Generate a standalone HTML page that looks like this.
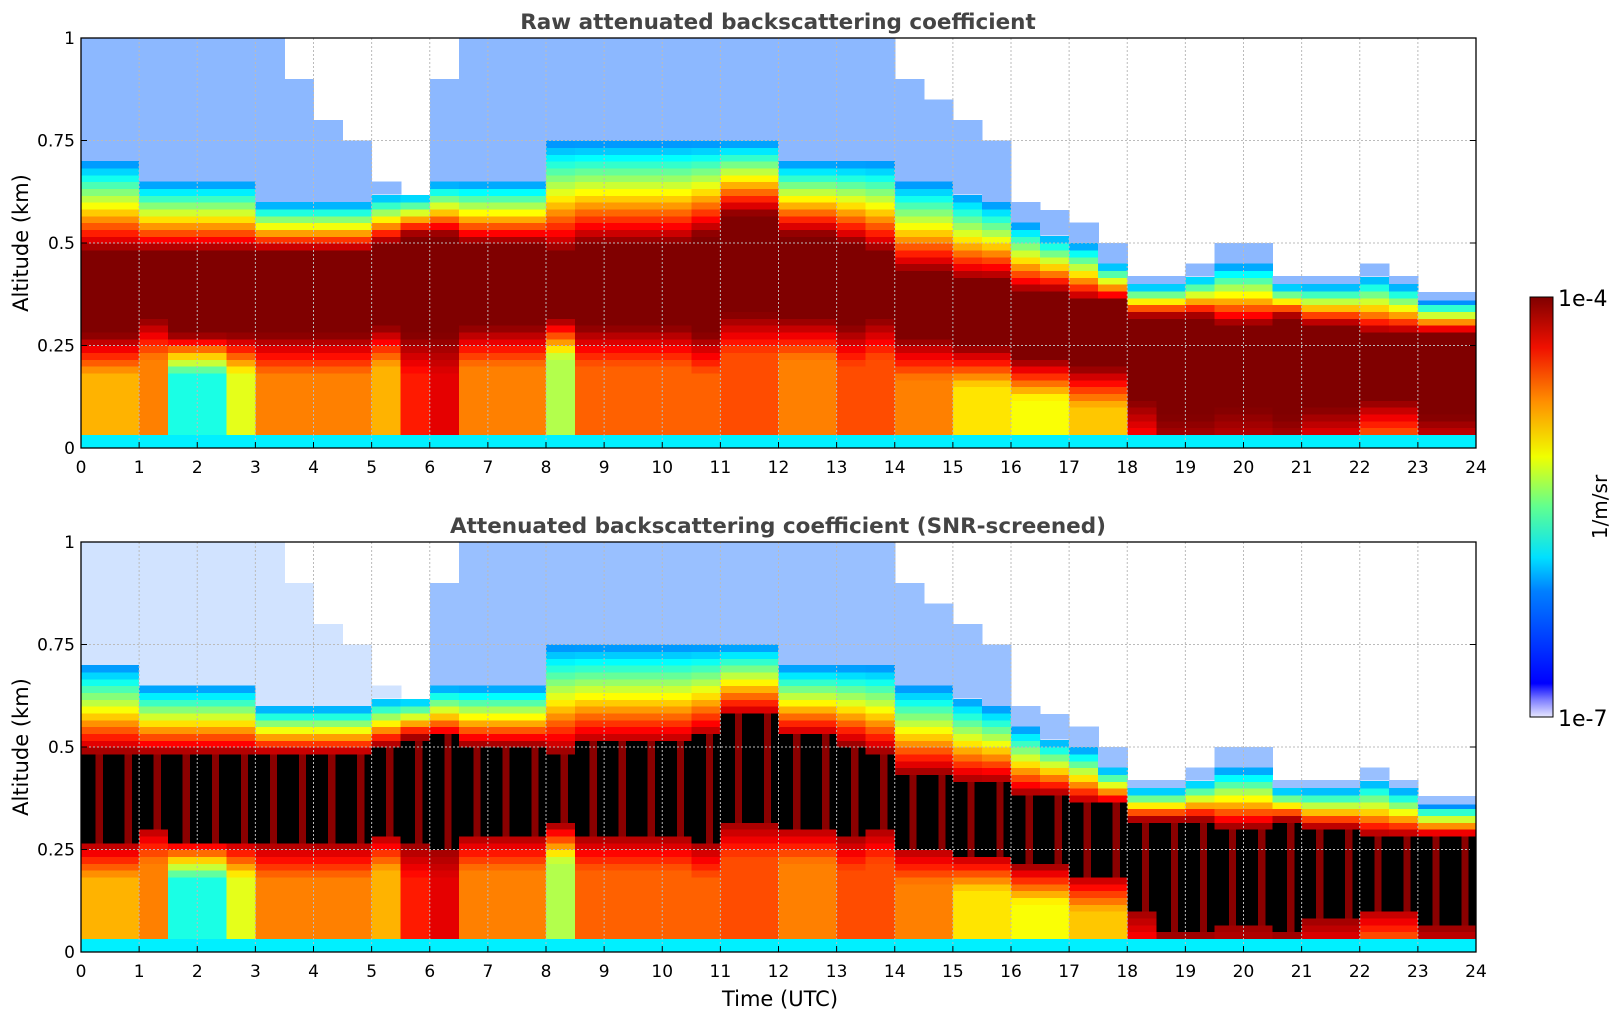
<!DOCTYPE html>
<html><head><meta charset="utf-8"><style>
body{margin:0;background:#fff;font-family:"Liberation Sans",sans-serif;}
svg text{font-family:"DejaVu Sans","Liberation Sans",sans-serif;}
</style></head><body>
<svg id="fig" width="1621" height="1020" viewBox="0 0 1621 1020" xmlns="http://www.w3.org/2000/svg">
<defs>
<linearGradient id="jet" x1="0" y1="1" x2="0" y2="0">
<stop offset="0" stop-color="#e8e8ff"/><stop offset="0.04" stop-color="#8080ff"/><stop offset="0.08" stop-color="#0000ff"/>
<stop offset="0.3" stop-color="#0080ff"/><stop offset="0.38" stop-color="#00e0ff"/><stop offset="0.5" stop-color="#60ff90"/>
<stop offset="0.62" stop-color="#f0ff00"/><stop offset="0.75" stop-color="#ff9000"/><stop offset="0.88" stop-color="#f01000"/><stop offset="1" stop-color="#800000"/>
</linearGradient>
</defs>
<text x="778" y="29" text-anchor="middle" font-size="21.5" font-weight="bold" fill="#444">Raw attenuated backscattering coefficient</text>
<text x="778" y="533" text-anchor="middle" font-size="21.5" font-weight="bold" fill="#444">Attenuated backscattering coefficient (SNR-screened)</text>
<g id="p1" shape-rendering="crispEdges"></g>
<g id="p2" shape-rendering="crispEdges"></g>
<g id="axes"></g>
<text x="780" y="1006" text-anchor="middle" font-size="21">Time (UTC)</text>
<text transform="translate(28,243) rotate(-90)" text-anchor="middle" font-size="21">Altitude (km)</text>
<text transform="translate(28,747) rotate(-90)" text-anchor="middle" font-size="21">Altitude (km)</text>
<rect x="1530" y="297" width="23" height="420" fill="url(#jet)" stroke="#000" stroke-width="1"/>
<text x="1558" y="306" font-size="22">1e-4</text>
<text x="1558" y="726" font-size="22">1e-7</text>
<text transform="translate(1607,507) rotate(-90)" text-anchor="middle" font-size="20">1/m/sr</text>
</svg>
<script>
// half-hour columns, 48 entries each
const signalTop=[1,1,1,1,1,1,1,0.9,0.8,0.75,0.65,0.62,0.9,1,1,1,1,1,1,1,1,1,1,1,1,1,1,1,0.9,0.85,0.8,0.75,0.6,0.58,0.55,0.5,0.42,0.42,0.45,0.5,0.5,0.42,0.42,0.42,0.45,0.42,0.38,0.38];
const denseTop=[0.7,0.7,0.65,0.65,0.65,0.65,0.6,0.6,0.6,0.6,0.62,0.62,0.65,0.65,0.65,0.65,0.75,0.75,0.75,0.75,0.75,0.75,0.75,0.75,0.7,0.7,0.7,0.7,0.65,0.65,0.62,0.6,0.55,0.52,0.5,0.45,0.4,0.4,0.42,0.45,0.45,0.4,0.4,0.4,0.42,0.4,0.36,0.36];
const coreCenter=[0.38,0.38,0.4,0.38,0.38,0.38,0.38,0.38,0.38,0.38,0.4,0.4,0.4,0.4,0.4,0.4,0.4,0.4,0.4,0.4,0.4,0.4,0.45,0.45,0.42,0.42,0.4,0.4,0.35,0.35,0.33,0.33,0.3,0.3,0.28,0.28,0.22,0.2,0.2,0.2,0.2,0.2,0.2,0.2,0.2,0.2,0.18,0.18];
const coreHalf=[0.1,0.1,0.08,0.1,0.1,0.1,0.1,0.1,0.1,0.1,0.1,0.12,0.12,0.1,0.1,0.1,0.08,0.1,0.1,0.1,0.1,0.12,0.12,0.12,0.1,0.1,0.1,0.08,0.08,0.08,0.08,0.08,0.08,0.08,0.08,0.08,0.1,0.12,0.12,0.1,0.1,0.12,0.1,0.1,0.08,0.08,0.1,0.1];
const lowLevel=[0.7,0.7,0.75,0.4,0.4,0.6,0.75,0.75,0.75,0.75,0.7,0.85,0.9,0.75,0.75,0.75,0.55,0.78,0.78,0.78,0.78,0.78,0.8,0.8,0.75,0.75,0.8,0.8,0.75,0.75,0.65,0.65,0.62,0.62,0.68,0.68,0.85,0.92,0.92,0.92,0.92,0.92,0.85,0.85,0.75,0.75,0.85,0.85];
const xTicks=[0,1,2,3,4,5,6,7,8,9,10,11,12,13,14,15,16,17,18,19,20,21,22,23,24];
const yTicks=[0,0.25,0.5,0.75,1];
const yTickLabels=["0","0.25","0.5","0.75","1"];

const X0=81,X1=1476,H=410,plots=[{top:38,g:'p1',screen:false},{top:542,g:'p2',screen:true}];
const NS='http://www.w3.org/2000/svg';
const xs=t=>X0+(X1-X0)*t/24;
function jetRGB(v){const c=x=>255*Math.max(0,Math.min(1,x));return [c(1.5-Math.abs(4*v-3)),c(1.5-Math.abs(4*v-2)),c(1.5-Math.abs(4*v-1))];}
function jet(v,a){const k=jetRGB(v),al=a===undefined?1:a;return `rgb(${k.map(q=>Math.round(q*al+255*(1-al))).join(',')})`;}
function value(i,z){
 const c=coreCenter[i],w=coreHalf[i],lo=lowLevel[i];
 if(z<0.03) return 0.36;
 if(Math.abs(z-c)<=w) return 1;
 if(z<c-w){const d=(c-w)-z;return d<0.1?1-(1-lo)*(d/0.1):lo;}
 const e=(z-(c+w))/Math.max(0.02,denseTop[i]-(c+w));return Math.max(0.25,1-0.75*e);
}
const ROWS=60,SUB=4,blackPattern=[1,1,0,1];
plots.forEach(p=>{
 const g=document.getElementById(p.g);
 const ys=z=>p.top+H*(1-z);
 const cw=(X1-X0)/48;
 for(let i=0;i<48;i++){
  if(signalTop[i]>denseTop[i]){
   const n=document.createElementNS(NS,'rect');
   n.setAttribute('x',xs(i*0.5));n.setAttribute('y',ys(signalTop[i]));
   n.setAttribute('width',cw+0.6);n.setAttribute('height',ys(denseTop[i])-ys(signalTop[i])+0.5);
   n.setAttribute('fill',jet(0.22,p.screen?(i<12?0.18:0.4):0.45));
   
   
   g.appendChild(n);
  }
  for(let r=0;r<ROWS;r++){
   const z0=r/ROWS,z1=Math.min((r+1)/ROWS,denseTop[i]),zm=(z0+(r+1)/ROWS)/2;
   if(zm>denseTop[i]) continue;
   for(let s=0;s<SUB;s++){
    const v=value(i,zm);const col=(p.screen&&v>=0.97)?(blackPattern[s]?'#000':'#8a0000'):jet(v);
    const el=document.createElementNS(NS,'rect');
    el.setAttribute('x',xs(i*0.5)+s*cw/SUB);el.setAttribute('y',ys(z1));
    el.setAttribute('width',cw/SUB+0.6);el.setAttribute('height',ys(z0)-ys(z1)+0.6);
    el.setAttribute('fill',col);
    
    
    g.appendChild(el);
   }
  }
 }
 const ax=document.getElementById('axes');
 xTicks.forEach(t=>{
  if(t>0&&t<24){const l=document.createElementNS(NS,'line');l.setAttribute('x1',xs(t));l.setAttribute('x2',xs(t));l.setAttribute('y1',p.top);l.setAttribute('y2',p.top+H);l.setAttribute('stroke','#bbb');l.setAttribute('stroke-dasharray','2,2');
   
   ax.appendChild(l);}
  const tk=document.createElementNS(NS,'line');tk.setAttribute('x1',xs(t));tk.setAttribute('x2',xs(t));tk.setAttribute('y1',p.top+H);tk.setAttribute('y2',p.top+H-6);tk.setAttribute('stroke','#000');
  
  ax.appendChild(tk);
  const tx=document.createElementNS(NS,'text');tx.setAttribute('x',xs(t));tx.setAttribute('y',p.top+H+25);tx.setAttribute('text-anchor','middle');tx.setAttribute('font-size','17');tx.textContent=t;
  
  ax.appendChild(tx);
 });
 yTicks.forEach((v,k)=>{
  if(v>0&&v<1){const l=document.createElementNS(NS,'line');l.setAttribute('x1',X0);l.setAttribute('x2',X1);l.setAttribute('y1',ys(v));l.setAttribute('y2',ys(v));l.setAttribute('stroke','#bbb');l.setAttribute('stroke-dasharray','2,2');
   
   ax.appendChild(l);}
  [[X0,X0+6],[X1,X1-6]].forEach(a=>{const tk=document.createElementNS(NS,'line');tk.setAttribute('x1',a[0]);tk.setAttribute('x2',a[1]);tk.setAttribute('y1',ys(v));tk.setAttribute('y2',ys(v));tk.setAttribute('stroke','#000');
   
   ax.appendChild(tk);});
  const tx=document.createElementNS(NS,'text');tx.setAttribute('x',X0-6);tx.setAttribute('y',ys(v)+6);tx.setAttribute('text-anchor','end');tx.setAttribute('font-size','17');tx.textContent=yTickLabels[k];
  
  ax.appendChild(tx);
 });
 const fr=document.createElementNS(NS,'rect');fr.setAttribute('x',X0);fr.setAttribute('y',p.top);fr.setAttribute('width',X1-X0);fr.setAttribute('height',H);fr.setAttribute('fill','none');fr.setAttribute('stroke','#000');fr.setAttribute('stroke-width','1.3');
 
 ax.appendChild(fr);
});
</script>
</body></html>
